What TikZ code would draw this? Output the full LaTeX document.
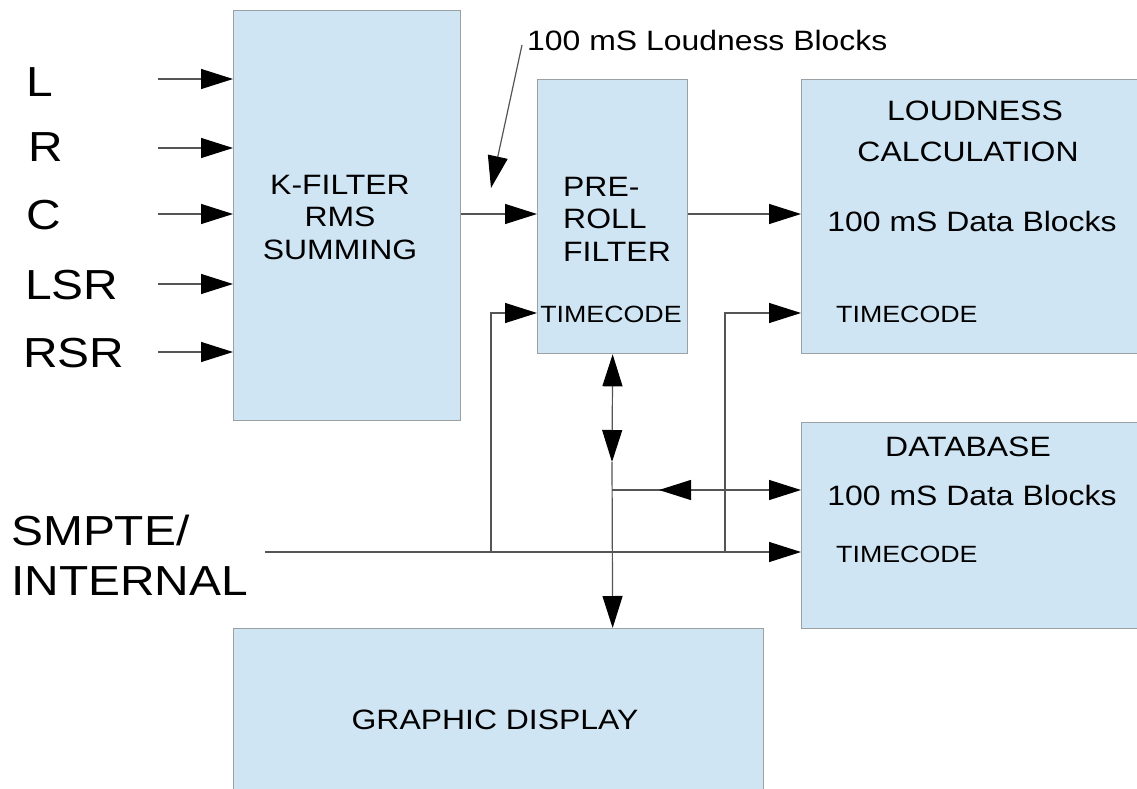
\documentclass[tikz,border=0pt]{standalone}
\usepackage{fontspec}
\setmainfont{Liberation Sans}[FakeStretch=1.14]
\usetikzlibrary{arrows.meta}
\definecolor{boxfill}{RGB}{207,229,243}
\definecolor{boxline}{RGB}{155,160,165}
\definecolor{wirec}{RGB}{85,85,85}
\begin{document}
\begin{tikzpicture}[x=1pt,y=-1pt,
  blk/.style={draw=boxline, fill=boxfill, line width=1.3pt, anchor=north west, inner sep=0pt, rectangle},
  wire/.style={draw=wirec, line width=1.2pt},
  arr/.style={wire, -{Triangle[length=32pt,width=20pt,color=black]}},
  dblarr/.style={wire, {Triangle[length=32pt,width=20pt,color=black]}-{Triangle[length=32pt,width=20pt,color=black]}},
  big/.style={font=\fontsize{42}{50}\selectfont, inner sep=0pt},
  lbl/.style={font=\fontsize{28}{32.5}\selectfont, inner sep=0pt, align=center},
  tc/.style={font=\fontsize{23.5}{28}\selectfont, inner sep=0pt}
]
\clip (0,0) rectangle (1137,789);
\fill[white] (0,0) rectangle (1137,789);

% blocks
\node[blk, minimum width=227pt, minimum height=410pt] (kf) at (233,10) {};
\node[blk, minimum width=150pt, minimum height=274pt] (pr) at (537,79) {};
\node[blk, minimum width=345pt, minimum height=274pt] (lc) at (801,79) {};
\node[blk, minimum width=345pt, minimum height=206pt] (db) at (801,422) {};
\node[blk, minimum width=530pt, minimum height=180pt] (gd) at (233,628) {};

% block texts
\node[lbl] (kft) at (340,217.5) {K-FILTER\\RMS\\SUMMING};
\node[lbl, align=left, anchor=west] (prt) at (563,219) {PRE-\\ROLL\\FILTER};
\node[tc] (prtc) at (611,314) {TIMECODE};
\node[lbl] (lct1) at (975,111) {LOUDNESS};
\node[lbl] (lct2) at (968,152) {CALCULATION};
\node[lbl] (lcd) at (972,221) {100 mS Data Blocks};
\node[tc, anchor=west] (lctc) at (836,314) {TIMECODE};
\node[lbl] (dbt) at (968,447) {DATABASE};
\node[lbl] (dbd) at (972,495) {100 mS Data Blocks};
\node[tc, anchor=west] (dbtc) at (836,554) {TIMECODE};
\node[lbl] (gdt) at (495,720) {GRAPHIC DISPLAY};

% inputs
\node[big, anchor=west] (inL) at (26,82) {L};
\node[big, anchor=west] (inR) at (28,147) {R};
\node[big, anchor=west] (inC) at (26,215) {C};
\node[big, anchor=west] (inLSR) at (25,285) {LSR};
\node[big, anchor=west] (inRSR) at (23,353) {RSR};
\coordinate (sL) at (158,79);
\coordinate (sR) at (158,148);
\coordinate (sC) at (158,214);
\coordinate (sLSR) at (158,284);
\coordinate (sRSR) at (158,352);
\draw[arr] (sL) -- (sL -| kf.west);
\draw[arr] (sR) -- (sR -| kf.west);
\draw[arr] (sC) -- (sC -| kf.west);
\draw[arr] (sLSR) -- (sLSR -| kf.west);
\draw[arr] (sRSR) -- (sRSR -| kf.west);

% main flow
\coordinate (fl) at (460,214);
\draw[arr] (fl -| kf.east) -- (fl -| pr.west);
\draw[arr] (fl -| pr.east) -- (fl -| lc.west);

% annotation
\node[lbl, anchor=west] (ann) at (527,40) {100 mS Loudness Blocks};
\coordinate (annS) at (522,45);
\coordinate (annT) at (491,188);
\draw[arr] (annS) -- (annT);

% SMPTE
\node[big, align=left, anchor=west, font=\fontsize{42}{50}\selectfont] (smpte) at (11,555) {SMPTE/\\INTERNAL};
\coordinate (ts) at (265,552);
\coordinate (tl) at (491,552);
\coordinate (tr) at (725,552);
\coordinate (tcy) at (0,313);
\draw[arr] (ts) -- (ts -| db.west);
\draw[arr] (tl) -- (tl |- tcy) -- (tcy -| pr.west);
\draw[arr] (tr) -- (tr |- tcy) -- (tcy -| lc.west);

% vertical bus
\coordinate (vm) at (612,462);
\coordinate (jn) at (612,490);
\draw[dblarr] (pr.south) -- (vm);
\draw[arr] (vm) -- (pr.south |- gd.north);
\draw[arr] (jn) -- (jn -| db.west);
\coordinate (mb) at (692,490);
\coordinate (mt) at (659,490);
\draw[arr] (mb) -- (mt);
\end{tikzpicture}
\end{document}
